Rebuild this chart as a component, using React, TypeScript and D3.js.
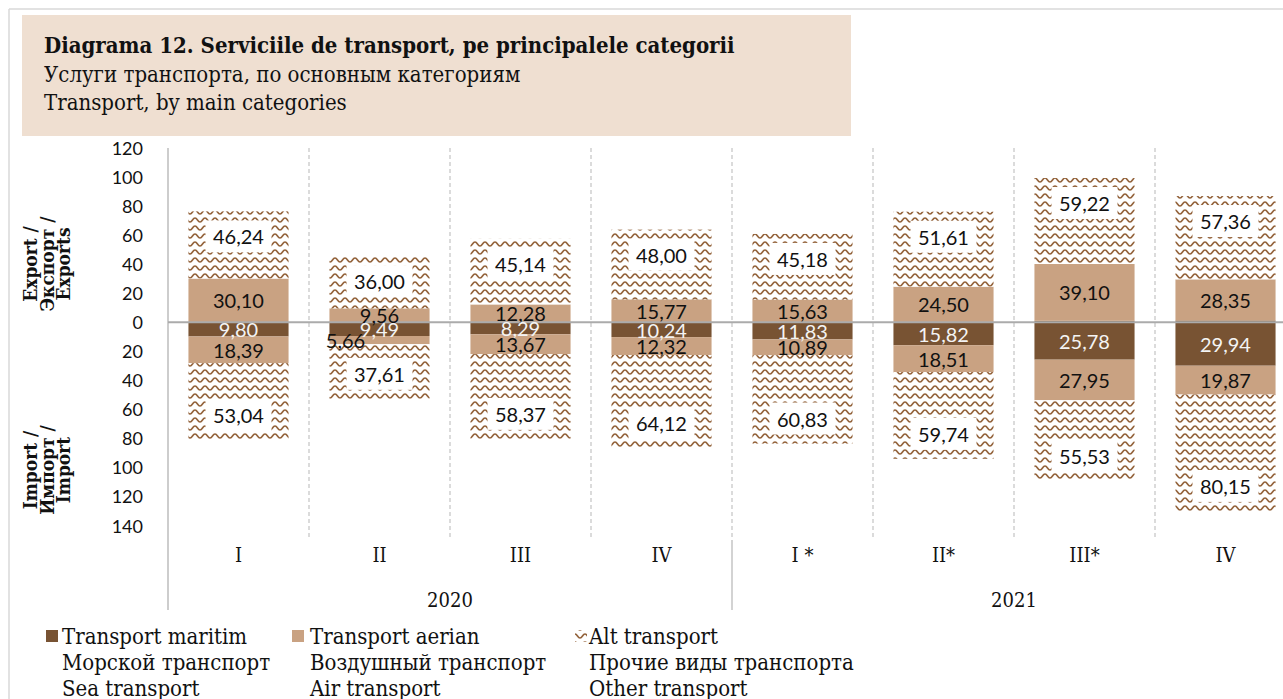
import React, { useEffect, useRef } from 'react';
import * as d3 from 'd3';

// quarters on the category axis, grouped by year
const quarters = ['I', 'II', 'III', 'IV', 'I *', 'II*', 'III*', 'IV'];
const quarterYear = ['2020', '2020', '2020', '2020', '2021', '2021', '2021', '2021'];
const years = ['2020', '2021'];

// exports (above zero), mil. USD
const seaExport = [0, 0, 0, 0, 0, 0, 1.0, 1.2];
const airExport = [30.1, 9.56, 12.28, 15.77, 15.63, 24.5, 39.1, 28.35];
const otherExport = [46.24, 36.0, 45.14, 48.0, 45.18, 51.61, 59.22, 57.36];

// imports (below zero)
const seaImport = [9.8, 9.49, 8.29, 10.24, 11.83, 15.82, 25.78, 29.94];
const airImport = [18.39, 5.66, 13.67, 12.32, 10.89, 18.51, 27.95, 19.87];
const otherImport = [53.04, 37.61, 58.37, 64.12, 60.83, 59.74, 55.53, 80.15];

const yTicks = [120, 100, 80, 60, 40, 20, 0, -20, -40, -60, -80, -100, -120, -140];

const titleLines = [
  'Diagrama 12. Serviciile de transport, pe principalele categorii',
  'Услуги транспорта, по основным категориям',
  'Transport, by main categories',
];
const exportTitle = ['Export /', 'Экспорт /', 'Exports'];
const importTitle = ['Import /', 'Импорт /', 'Import'];

const seriesKeys = ['sea', 'air', 'other'];
const legendRo = ['Transport maritim', 'Transport aerian', 'Alt transport'];
const legendRu = ['Морской транспорт', 'Воздушный транспорт', 'Прочие виды транспорта'];
const legendEn = ['Sea transport', 'Air transport', 'Other transport'];

const colors = { sea: '#785333', air: '#C9A282', other: 'url(#wave)' };
const labelColors = { sea: '#F4F4F4', air: '#111', other: '#111' };

const serif = '"DejaVu Serif Condensed", "DejaVu Serif", serif';
const sans = 'Lato, "Open Sans", sans-serif';

const fmt = d3.formatLocale({ decimal: ',', thousands: ' ', grouping: [3], currency: ['', ''] }).format('.2f');

export default function App() {
  const svgRef = useRef(null);

  useEffect(() => {
    const svg = d3.select(svgRef.current);
    svg.selectAll('g.chart').remove();
    const g = svg.append('g').attr('class', 'chart');

    const plotLeft = 168;
    const step = 141;
    const keys = quarters.map((_, i) => String(i));

    const slot = d3.scaleBand().domain(keys).range([plotLeft, plotLeft + step * keys.length]);
    const x = slot.copy().paddingInner(0.29).paddingOuter(0.145);
    const y = d3.scaleLinear().domain([-140, 120]).range([525.5, 148]);

    // vertical gridlines between quarters
    keys.slice(1).forEach((k, i) => {
      const xx = slot(k);
      const yearBreak = quarterYear[i] !== quarterYear[i + 1];
      g.append('line')
        .attr('x1', xx).attr('x2', xx)
        .attr('y1', 148).attr('y2', 537)
        .attr('stroke', '#CFCFCF')
        .attr('stroke-width', 1.5)
        .attr('stroke-dasharray', '4,3');
      if (yearBreak) {
        g.append('line')
          .attr('x1', xx).attr('x2', xx)
          .attr('y1', 540).attr('y2', 610)
          .attr('stroke', '#C4C4C4')
          .attr('stroke-width', 1.5);
      }
    });

    // value axis line
    g.append('line')
      .attr('x1', plotLeft).attr('x2', plotLeft)
      .attr('y1', 148).attr('y2', 610)
      .attr('stroke', '#BDBDBD')
      .attr('stroke-width', 1.5);

    // tick labels, absolute values
    g.append('g')
      .selectAll('text')
      .data(yTicks)
      .enter()
      .append('text')
      .attr('x', 143)
      .attr('y', (d) => y(d))
      .attr('text-anchor', 'end')
      .attr('dominant-baseline', 'central')
      .attr('font-family', sans)
      .attr('font-size', 18)
      .attr('fill', '#111')
      .text((d) => Math.abs(d));

    const exportRows = keys.map((k, i) => ({ key: k, sea: seaExport[i], air: airExport[i], other: otherExport[i] }));
    const importRows = keys.map((k, i) => ({ key: k, sea: -seaImport[i], air: -airImport[i], other: -otherImport[i] }));
    const stack = d3.stack().keys(seriesKeys).offset(d3.stackOffsetDiverging);

    const sides = [
      { name: 'export', layers: stack(exportRows) },
      { name: 'import', layers: stack(importRows) },
    ];

    sides.forEach((side) => {
      side.layers.forEach((layer) => {
        g.append('g')
          .selectAll('rect')
          .data(layer)
          .enter()
          .append('rect')
          .attr('x', (d) => x(d.data.key))
          .attr('width', x.bandwidth())
          .attr('y', (d) => y(d[1]))
          .attr('height', (d) => y(d[0]) - y(d[1]))
          .attr('fill', colors[layer.key]);
      });
    });

    // zero line on top of the bars
    g.append('line')
      .attr('x1', plotLeft).attr('x2', 1283)
      .attr('y1', y(0)).attr('y2', y(0))
      .attr('stroke', '#ABABAB')
      .attr('stroke-width', 2);

    // data labels
    sides.forEach((side) => {
      side.layers.forEach((layer) => {
        layer.forEach((d) => {
          const v = Math.abs(d[1] - d[0]);
          if (v < 2) return;
          // the small air-import value of Q2 2020 is pushed aside, as in the source
          const nudge = side.name === 'import' && layer.key === 'air' && v < 7 ? -34 : 0;
          const cx = x(d.data.key) + x.bandwidth() / 2 + nudge;
          let cy = y((d[0] + d[1]) / 2);
          if (layer.key === 'other') {
            cy = side.name === 'export' ? y(d[1]) + 25 : y(d[0]) - 25;
            g.append('rect')
              .attr('x', cx - 33)
              .attr('y', cy - 16)
              .attr('width', 66)
              .attr('height', 32)
              .attr('fill', '#fff');
          }
          g.append('text')
            .attr('x', cx)
            .attr('y', cy)
            .attr('text-anchor', 'middle')
            .attr('dominant-baseline', 'central')
            .attr('font-family', sans)
            .attr('font-size', 20)
            .attr('fill', labelColors[layer.key])
            .text(fmt(v));
        });
      });
    });

    // category labels
    g.append('g')
      .selectAll('text')
      .data(keys)
      .enter()
      .append('text')
      .attr('x', (k) => slot(k) + slot.bandwidth() / 2)
      .attr('y', 555)
      .attr('text-anchor', 'middle')
      .attr('dominant-baseline', 'central')
      .attr('font-family', serif)
      .attr('font-size', 20)
      .attr('fill', '#111')
      .text((k) => quarters[+k]);

    // year labels centred under their quarters
    years.forEach((yr) => {
      const ks = keys.filter((k) => quarterYear[+k] === yr);
      const x0 = slot(ks[0]);
      const x1 = slot(ks[ks.length - 1]) + slot.bandwidth();
      g.append('text')
        .attr('x', (x0 + x1) / 2)
        .attr('y', 600)
        .attr('text-anchor', 'middle')
        .attr('dominant-baseline', 'central')
        .attr('font-family', serif)
        .attr('font-size', 20)
        .attr('fill', '#111')
        .text(yr);
    });
  }, []);

  const legendIconX = [46, 292, 575];
  const legendTextX = [62, 310, 589];

  return (
    <svg
      ref={svgRef}
      width={1283}
      height={699}
      style={{ position: 'absolute', left: 0, top: 0, background: '#fff' }}
    >
      <defs>
        <pattern id="wave" width="10" height="8" patternUnits="userSpaceOnUse">
          <rect width="10" height="8" fill="#fff" />
          <path d="M0,6 C2.5,6 2.5,2 5,2 C7.5,2 7.5,6 10,6" fill="none" stroke="#93623A" strokeWidth="1.6" />
        </pattern>
      </defs>
      <line x1={9} x2={1283} y1={9} y2={9} stroke="#D9D9D9" strokeWidth={1.5} />
      <line x1={9} x2={9} y1={9} y2={699} stroke="#D9D9D9" strokeWidth={1.5} />
      <rect x={22} y={15} width={829} height={121} fill="#EFDFD1" />
      {titleLines.map((t, i) => (
        <text
          key={t}
          x={44}
          y={53 + i * 28.5}
          fontFamily={serif}
          fontSize={22}
          fontWeight={i === 0 ? 'bold' : 'normal'}
          fill="#111"
        >
          {t}
        </text>
      ))}
      {[exportTitle, importTitle].map((lines, j) => (
        <g key={j} transform={`translate(0, ${j === 0 ? 264 : 470}) rotate(-90)`}>
          {lines.map((t, i) => (
            <text
              key={t}
              x={0}
              y={30 + i * 16.5}
              textAnchor="middle"
              dominantBaseline="central"
              fontFamily={serif}
              fontSize={19}
              fontWeight="bold"
              fill="#111"
            >
              {t}
            </text>
          ))}
        </g>
      ))}
      {seriesKeys.map((k, i) => (
        <g key={k}>
          <rect x={legendIconX[i]} y={630} width={12} height={12} fill={colors[k]} />
          {[legendRo[i], legendRu[i], legendEn[i]].map((t, r) => (
            <text
              key={t}
              x={legendTextX[i]}
              y={636 + r * 26}
              dominantBaseline="central"
              fontFamily={serif}
              fontSize={22}
              fill="#111"
            >
              {t}
            </text>
          ))}
        </g>
      ))}
    </svg>
  );
}
